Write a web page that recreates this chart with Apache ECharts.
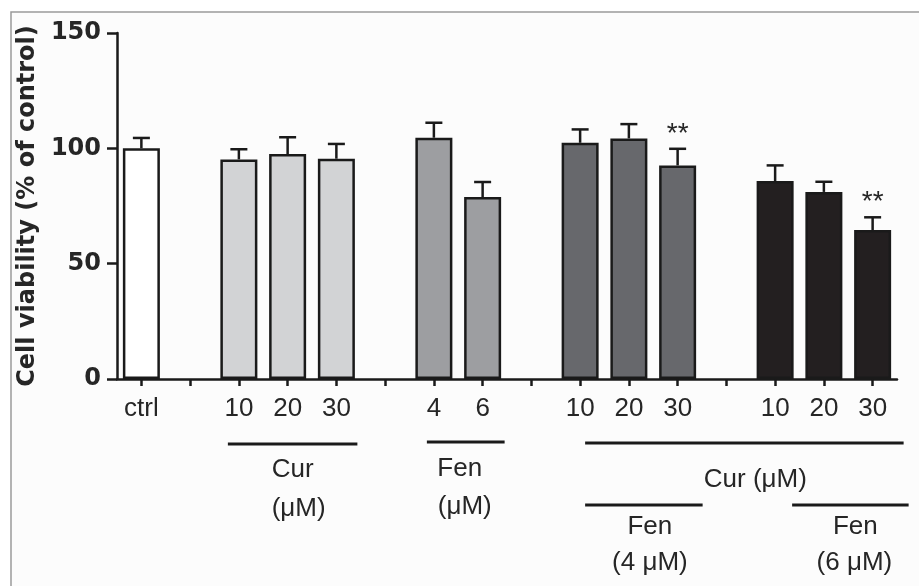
<!DOCTYPE html>
<html>
<head>
<meta charset="utf-8">
<script src="https://cdn.jsdelivr.net/npm/echarts@6/dist/echarts.min.js"></script>
<style>
  html, body { margin: 0; padding: 0; background: #fff; }
  #chart { width: 919px; height: 586px; }
</style>
</head>
<body>
<div id="chart"></div>
<script>
// x categories, blanks are the gaps between treatment groups
const categories = ['ctrl', '', '10', '20', '30', '', '4', '6', '', '10', '20', '30', '', '10', '20', '30'];
// mean cell viability (% of control), '-' = no bar
const viability = [100, '-', 95.2, 97.5, 95.5, '-', 104.6, 78.9, '-', 102.4, 104.3, 92.6, '-', 85.8, 81.1, 64.6];
// SEM (upper error bar only)
const sem = [4.5, 0, 4.4, 7.3, 6.4, 0, 6.5, 6.5, 0, 5.8, 6.2, 7.2, 0, 6.8, 4.4, 5.5];
// significance marks
const signif = ['', '', '', '', '', '', '', '', '', '', '', '**', '', '', '', '**'];
// treatment group per category
const groupOf = ['ctrl', '', 'cur', 'cur', 'cur', '', 'fen', 'fen', '', 'fen4', 'fen4', 'fen4', '', 'fen6', 'fen6', 'fen6'];
const groups = ['ctrl', 'cur', 'fen', 'fen4', 'fen6'];

const groupColor = { ctrl: '#ffffff', cur: '#d2d3d5', fen: '#9d9ea1', fen4: '#67686c', fen6: '#231f20' };
const labelFont = 'Liberation Sans, Arial, sans-serif';
const boldFont = 'DejaVu Sans, sans-serif';
const ink = '#1a1a1a';
const textInk = '#262626';

const chart = echarts.init(document.getElementById('chart'));

const barSeries = groups.map((g) => ({
  type: 'bar',
  name: g,
  barWidth: 37,
  barGap: '-100%',
  data: viability.map((v, i) => (groupOf[i] === g ? v : '-')),
  itemStyle: { color: groupColor[g], borderColor: ink, borderWidth: 2.5 },
}));

const errData = [];
viability.forEach((v, i) => {
  if (v !== '-') errData.push([i, v, v + sem[i]]);
});

chart.setOption({
  backgroundColor: '#ffffff',
  animation: false,
  grid: { left: 117, right: 22, top: 33, bottom: 207 },
  xAxis: {
    type: 'category',
    data: categories,
    axisLine: { show: true, lineStyle: { color: ink, width: 2.5 } },
    axisTick: { show: true, alignWithLabel: true, interval: 0, length: 7, lineStyle: { color: ink, width: 2.5 } },
    axisLabel: { interval: 0, margin: 17, color: textInk, fontSize: 26, fontFamily: labelFont },
  },
  yAxis: {
    type: 'value',
    min: 0,
    max: 150,
    interval: 50,
    name: 'Cell viability (% of control)',
    nameLocation: 'middle',
    nameGap: 70,
    nameTextStyle: { color: textInk, fontSize: 24, fontWeight: 'bold', fontFamily: boldFont },
    axisLine: { show: true, lineStyle: { color: ink, width: 2.5 } },
    axisTick: { show: true, length: 10, lineStyle: { color: ink, width: 2.5 } },
    axisLabel: { margin: 16, color: textInk, fontSize: 24, fontWeight: 'bold', fontFamily: boldFont },
    splitLine: { show: false },
  },
  series: [
    ...barSeries,
    {
      type: 'custom',
      z: 5,
      data: errData,
      renderItem: (params, api) => {
        const idx = api.value(0);
        const base = api.coord([idx, api.value(1)]);
        const top = api.coord([idx, api.value(2)]);
        const half = 8.5;
        const children = [
          { type: 'line', shape: { x1: base[0], y1: base[1], x2: top[0], y2: top[1] }, style: { stroke: ink, lineWidth: 2.5 } },
          { type: 'line', shape: { x1: top[0] - half, y1: top[1], x2: top[0] + half, y2: top[1] }, style: { stroke: ink, lineWidth: 2.5 } },
        ];
        if (signif[idx]) {
          children.push({
            type: 'text',
            style: {
              text: signif[idx], x: top[0], y: top[1] - 15,
              align: 'center', verticalAlign: 'middle',
              fontSize: 28, fontFamily: labelFont, fill: textInk,
            },
          });
        }
        return { type: 'group', children };
      },
    },
  ],
});

// brackets and group labels under the axis
const px = (i) => chart.convertToPixel({ xAxisIndex: 0 }, i);
const brackets = [
  { from: 2, to: 4, x0: -11, x1: 21, y: 444 },
  { from: 6, to: 7, x0: -7, x1: 22, y: 442 },
  { from: 9, to: 15, x0: 5, x1: 31, y: 443 },
  { from: 9, to: 11, x0: 5, x1: 25, y: 505 },
  { from: 13, to: 15, x0: 17, x1: 36, y: 505 },
];
const notes = [
  { text: 'Cur', at: 0, dx: 0, y: 470 },
  { text: '(μM)', at: 0, dx: 6, y: 509 },
  { text: 'Fen', at: 1, dx: -6, y: 469 },
  { text: '(μM)', at: 1, dx: -1, y: 507 },
  { text: 'Cur (μM)', at: 2, dx: 11, y: 480 },
  { text: 'Fen', at: 3, dx: 6, y: 527 },
  { text: '(4 μM)', at: 3, dx: 6, y: 563 },
  { text: 'Fen', at: 4, dx: 5, y: 527 },
  { text: '(6 μM)', at: 4, dx: 4, y: 563 },
];

const graphics = [
  {
    type: 'rect', z: -10, silent: true,
    shape: { x: 11, y: 12, width: 940, height: 600 },
    style: { fill: '#fcfcfc', stroke: '#9a9a9a', lineWidth: 1.5 },
  },
];
const mids = brackets.map((b) => {
  const a = px(b.from) + b.x0;
  const e = px(b.to) + b.x1;
  graphics.push({
    type: 'line', silent: true,
    shape: { x1: a, y1: b.y, x2: e, y2: b.y },
    style: { stroke: ink, lineWidth: 3 },
  });
  return (a + e) / 2;
});
notes.forEach((n) => {
  graphics.push({
    type: 'text', silent: true,
    style: {
      text: n.text, x: mids[n.at] + n.dx, y: n.y,
      align: 'center', verticalAlign: 'middle',
      fontSize: 26, fontFamily: labelFont, fill: textInk,
    },
  });
});
chart.setOption({ graphic: graphics });
</script>
</body>
</html>
